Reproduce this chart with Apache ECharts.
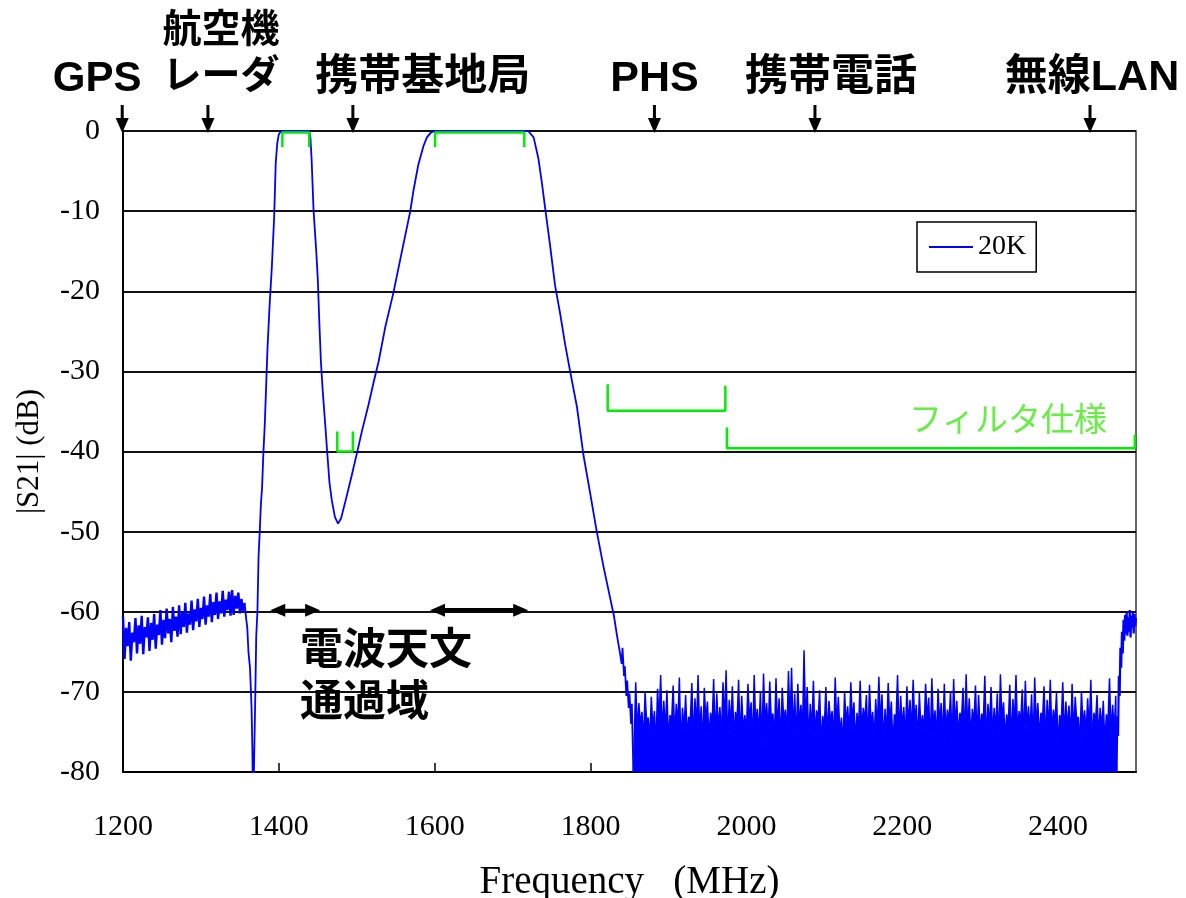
<!DOCTYPE html>
<html>
<head>
<meta charset="utf-8">
<script src="https://cdn.jsdelivr.net/npm/echarts@6/dist/echarts.min.js"></script>
<style>
html,body{margin:0;padding:0;background:#fff;}
#chart{width:1186px;height:898px;}
</style>
</head>
<body>
<div id="chart"></div>
<script>
// ---------------- DATA ----------------
const seriesName = '20K';

// noisy low-frequency floor, 1200..1356 MHz every 2 MHz
const leftNoiseStart = 1200;
const leftNoiseStep = 2;
const leftNoise = [
  -60.6,-65.9,-62.0,-64.3,-61.3,-66.1,-62.6,-63.8,-60.8,-65.2,
  -61.7,-64.0,-60.5,-65.3,-61.9,-63.2,-60.7,-64.9,-61.4,-63.5,
  -60.3,-64.6,-61.6,-62.9,-59.8,-64.1,-61.0,-63.3,-59.6,-62.7,
  -60.9,-63.8,-59.4,-62.4,-60.6,-63.1,-59.2,-62.8,-60.1,-61.9,
  -58.9,-62.6,-60.2,-61.6,-58.6,-62.3,-59.7,-61.2,-58.4,-61.9,
  -59.5,-60.9,-58.1,-61.6,-59.2,-60.6,-57.8,-61.3,-58.8,-60.4,
  -57.6,-60.9,-58.7,-60.2,-57.4,-60.6,-58.5,-59.8,-57.5,-60.5,
  -57.3,-60.4,-58.0,-59.6,-57.6,-60.2,-58.4,-60.0,-58.9
];

// the two pass bands and the notch, [MHz, dB]
const passbandCurve = [
  [1356,-58.9],[1358,-60.8],[1359.5,-62],[1361,-65],[1363,-67],[1365,-72],[1366,-77],[1367,-85],[1368.5,-85],
  [1369.5,-72],[1371,-63],[1372.5,-60],[1374,-53],[1375.5,-50],[1377,-46.5],[1378.5,-44.5],
  [1380,-40.5],[1382,-36.5],[1384,-31],[1385.5,-27],[1388,-22],[1391,-17],[1394,-10.7],
  [1396,-4],[1398,-1.5],[1400,-0.4],[1403,0],[1439,0],[1440.5,-0.8],[1442,-3.4],
  [1444.5,-9.8],[1448,-15],[1450,-18.5],[1452,-24],[1454,-28.8],[1456.5,-32.7],
  [1459.5,-36.6],[1462,-40],[1465,-43.9],[1468,-46.1],[1472,-48.2],[1476,-49],
  [1480,-48.3],[1487,-45.6],[1493.5,-43],[1500,-40.3],[1507,-37.3],[1515,-34.2],
  [1522,-31.2],[1528,-28.8],[1536.5,-24.5],[1547,-20.2],[1558,-15],[1568.5,-10.1],
  [1573,-7.3],[1579,-4.2],[1585.5,-1.9],[1590,-0.8],[1595,-0.2],[1600,0],
  [1720,0],[1727,-0.8],[1733,-3.4],[1737.5,-6.4],[1742,-9.8],[1748,-14.2],
  [1754.5,-19.3],[1761,-22.8],[1767.5,-26.7],[1774,-30.1],[1782.5,-34.4],[1791,-40.5],
  [1799.5,-45.2],[1808,-50],[1816.5,-54.3],[1825,-58.2],[1830,-60.5],[1834,-63],
  [1837,-64.7],[1840,-66.5],[1841,-64.5],[1843,-68],[1844,-66.8],[1846,-70.5],
  [1847,-68.6],[1849,-72],[1850,-70.2],[1852,-74],[1853,-71.5],[1855,-80]
];

// high-frequency noise floor: spike tops at 1858 + 4k MHz,
// top of the dense band between them at 1860 + 4k MHz
const floorStart = 1858;
const floorPeaks = [
  -68.8,-71.4,-72.5,-70.0,-73.2,-70.6,-72.4,-69.6,-67.9,-71.1,
  -69.8,-72.9,-69.2,-71.5,-68.2,-72.0,-70.4,-73.1,-68.9,-70.8,
  -67.9,-71.8,-69.5,-71.2,-72.6,-68.4,-70.2,-71.9,-68.8,-67.3,
  -71.0,-69.3,-72.5,-68.5,-70.5,-72.9,-69.0,-71.3,-67.9,-72.1,
  -69.9,-67.7,-71.4,-68.7,-72.7,-68.3,-70.8,-69.5,-72.2,-67.4,
  -67.0,-70.2,-69.0,-71.6,-64.8,-69.4,-71.5,-68.6,-72.3,-69.8,
  -73.0,-69.4,-71.1,-72.4,-68.2,-70.6,-73.2,-70.0,-71.8,-68.8,
  -71.3,-72.6,-68.6,-72.0,-70.4,-69.1,-72.5,-70.9,-68.1,-70.3,
  -72.1,-68.9,-71.2,-72.8,-67.9,-70.5,-71.9,-69.3,-71.0,-68.5,
  -71.6,-70.1,-72.9,-69.0,-70.7,-68.3,-72.3,-69.6,-71.4,-69.0,
  -72.2,-69.9,-68.4,-71.1,-72.6,-69.5,-67.8,-70.8,-72.1,-69.2,
  -70.4,-72.7,-68.0,-71.5,-69.4,-72.0,-70.2,-67.8,-71.3,-72.8,
  -69.1,-70.9,-67.9,-72.4,-69.7,-68.6,-71.8,-70.3,-68.2,-71.4,
  -72.6,-69.3,-71.0,-68.5,-72.2,-70.1,-72.9,-68.8,-71.2,-71.7,
  -69.0,-70.6,-73.1,-69.9,-72.3,-70.8,-68.5,-72.6,-70.4,-72.0,
  -71.1,-72.8,-68.3,-71.6,-70.5
];
const floorTroughs = [
  -75.2,-74.1,-76.4,-73.8,-75.9,-74.6,-76.8,-73.5,-75.3,-74.9,
  -76.1,-73.9,-75.6,-74.3,-77.0,-74.8,-75.4,-73.7,-76.3,-74.5,
  -75.0,-76.6,-73.6,-75.8,-74.2,-76.0,-74.7,-75.5,-73.9,-76.5,
  -74.4,-75.7,-73.8,-76.2,-74.9,-75.1,-73.6,-76.7,-74.3,-75.4,
  -76.9,-74.0,-75.2,-73.7,-75.9,-74.6,-76.4,-73.8,-75.3,-74.1,
  -75.6,-76.3,-74.2,-75.0,-73.9,-76.1,-74.8,-75.7,-73.5,-76.6,
  -74.5,-75.8,-73.7,-76.0,-74.4,-75.3,-76.8,-74.0,-75.5,-73.8,
  -76.2,-74.7,-75.1,-73.6,-76.5,-74.3,-75.9,-74.9,-73.9,-76.4,
  -75.4,-74.1,-76.7,-73.7,-75.6,-74.6,-76.0,-74.2,-75.2,-73.8,
  -76.3,-74.8,-75.0,-73.5,-76.9,-74.4,-75.7,-74.0,-76.1,-75.3,
  -73.9,-76.6,-74.5,-75.4,-73.6,-76.2,-74.9,-75.8,-74.1,-76.0,
  -75.1,-73.8,-76.4,-74.3,-75.5,-74.7,-76.8,-73.7,-75.9,-74.2,
  -76.5,-74.0,-75.3,-73.9,-76.1,-74.6,-75.0,-76.7,-74.4,-75.6,
  -73.6,-76.3,-74.8,-75.2,-73.8,-76.9,-74.1,-75.7,-74.5,-76.0,
  -75.4,-73.7,-76.6,-74.3,-75.1,-74.9,-76.2,-73.9,-75.8,-74.6,
  -76.4,-74.0,-75.5,-75.0
];

// rising edge at the top of the band, [MHz, dB]
const rightEdge = [
  [2475,-80],[2476,-73],[2477,-75.5],[2478,-68],[2479,-70.5],[2480,-64.5],[2481,-67],
  [2482,-62.5],[2483,-65.2],[2484,-61],[2485,-63.6],[2486,-60.4],[2487,-62.8],[2488,-60],
  [2489,-63],[2490,-60.7],[2491,-62.5],[2492,-59.8],[2493,-63.2],[2494,-60.5],[2495,-62],
  [2496,-60],[2497,-62.7],[2498,-60.3],[2499,-61.8],[2500,-60.8]
];

// filter specification brackets (フィルタ仕様), [MHz, dB]
const specPass1 = [[1404.5,-2.0],[1404.5,-0.2],[1439,-0.2],[1439,-2.0]];
const specPass2 = [[1600.5,-2.0],[1600.5,-0.2],[1715,-0.2],[1715,-2.0]];
const specNotch = [[1475,-37.5],[1475,-40],[1495,-40],[1495,-37.5]];
const specPHS   = [[1822,-31.6],[1822,-34.9],[1973,-34.9],[1973,-31.8]];
const specHigh  = [[1975,-37],[1975,-39.6],[2498.5,-39.6],[2498.5,-37.9]];

// services marked along the top
const bandNames = ['GPS', '航空機\nレーダ', '携帯基地局', 'PHS', '携帯電話', '無線LAN'];
const bandFreqs = [1199, 1309, 1495, 1882, 2088, 2441];

// radio astronomy pass ranges (double arrows), [from MHz, to MHz, dB]
const radioBands = [[1389, 1453, -60], [1594, 1720, -60]];

// ---------------- BUILD ----------------
const leftCurve = leftNoise.map((v, i) => [leftNoiseStart + leftNoiseStep * i, v]);
const floorCurve = [passbandCurve[passbandCurve.length - 1]];
floorPeaks.forEach((v, k) => {
  floorCurve.push([floorStart + 4 * k, v]);
  if (k < floorTroughs.length) floorCurve.push([floorStart + 2 + 4 * k, floorTroughs[k]]);
});
floorCurve.push(rightEdge[0]);

// ---------------- LAYOUT ----------------
const SERIF = '"Liberation Serif", "Times New Roman", serif';
const SANS = '"Liberation Sans", "Noto Sans CJK JP", sans-serif';
const BLUE = '#0000FF';
const GREEN = '#00EE00';
const labelDx = [-25, 13, 70, 0, 16, 2];
const labelDy = [-52, -77, -53, -52, -53, -53];
const labelSize = [42, 39, 43, 43, 43, 43];
const radioWidth = [3, 4.5];

function specSeries(data) {
  return {
    type: 'line', data: data, symbol: 'none', silent: true, z: 4,
    lineStyle: { color: GREEN, width: 2.5 }, animation: false
  };
}
function blueSeries(data, width, area) {
  const s = {
    name: seriesName, type: 'line', data: data, symbol: 'none', showSymbol: false,
    clip: true, z: 3, color: BLUE, itemStyle: { color: BLUE },
    lineStyle: { color: BLUE, width: width }
  };
  if (area) s.areaStyle = { color: BLUE, opacity: 1, origin: 'start' };
  return s;
}

const chart = echarts.init(document.getElementById('chart'), null, { renderer: 'canvas' });
const option = {
  animation: false,
  backgroundColor: '#fff',
  textStyle: { fontFamily: SERIF },
  grid: { left: 123, right: 50, top: 131, bottom: 126, containLabel: false, outerBoundsMode: 'none',
          show: true, borderColor: '#333', borderWidth: 1.5, backgroundColor: 'transparent' },
  legend: {
    data: [{ name: seriesName, icon: 'rect' }],
    left: 917, top: 222,
    itemWidth: 44, itemHeight: 2,
    padding: [11, 10, 11, 12],
    borderColor: '#000', borderWidth: 1.5,
    textStyle: { fontFamily: SERIF, fontSize: 28, color: '#000' }
  },
  xAxis: {
    type: 'value', min: 1200, max: 2500, interval: 200,
    name: 'Frequency   (MHz)', nameLocation: 'middle', nameGap: 91,
    nameTextStyle: { fontFamily: SERIF, fontSize: 39, color: '#000' },
    axisLine: { show: true, onZero: false, lineStyle: { color: '#000', width: 2 } },
    axisTick: { show: true, inside: true, length: 9, lineStyle: { color: '#000', width: 1.5 } },
    axisLabel: { fontFamily: SERIF, fontSize: 30, color: '#000', margin: 40, showMaxLabel: false,
                 formatter: v => String(v) },
    splitLine: { show: false }
  },
  yAxis: {
    type: 'value', min: -80, max: 0, interval: 10,
    name: '|S21| (dB)', nameLocation: 'middle', nameGap: 78,
    nameTextStyle: { fontFamily: SERIF, fontSize: 31, color: '#000' },
    axisLine: { show: true, lineStyle: { color: '#000', width: 2 } },
    axisTick: { show: false },
    axisLabel: { fontFamily: SERIF, fontSize: 30, color: '#000', margin: 23 },
    splitLine: { show: true, lineStyle: { color: '#111', width: 2 } }
  },
  graphic: [
    { type: 'text', x: 300, y: 626, z: 10,
      style: { text: '電波天文\n通過域', font: 'bold 43px ' + SANS, fill: '#000', lineHeight: 52, verticalAlign: 'top', align: 'left' } },
    { type: 'text', x: 909, y: 418, z: 10,
      style: { text: 'フィルタ仕様', font: '33px "Noto Sans CJK JP", sans-serif', fill: '#66EE44', verticalAlign: 'middle', align: 'left' } }
  ],
  series: [
    blueSeries(leftCurve, 2.4, false),
    blueSeries(passbandCurve, 1.8, false),
    blueSeries(floorCurve, 1.5, true),
    blueSeries(rightEdge, 2.2, false),
    specSeries(specPass1),
    specSeries(specPass2),
    specSeries(specNotch),
    specSeries(specPHS),
    specSeries(specHigh),
    {
      type: 'custom', silent: true, clip: false, z: 6,
      data: bandFreqs.map(f => [f, 0]),
      renderItem: function (params, api) {
        const i = params.dataIndex;
        const p = api.coord([api.value(0), api.value(1)]);
        const x = p[0], y0 = p[1];
        return {
          type: 'group',
          children: [
            { type: 'line', shape: { x1: x, y1: y0 - 26, x2: x, y2: y0 - 12 }, style: { stroke: '#000', lineWidth: 3 } },
            { type: 'polygon', shape: { points: [[x - 6.5, y0 - 13], [x + 6.5, y0 - 13], [x, y0 + 2]] }, style: { fill: '#000' } },
            { type: 'text', x: x + labelDx[i], y: y0 + labelDy[i],
              style: { text: bandNames[i], font: 'bold ' + labelSize[i] + 'px ' + SANS, fill: '#000',
                       align: 'center', verticalAlign: 'middle', lineHeight: 46 } }
          ]
        };
      }
    },
    {
      type: 'custom', silent: true, clip: false, z: 6,
      data: radioBands,
      renderItem: function (params, api) {
        const i = params.dataIndex;
        const a = api.coord([api.value(0), api.value(2)]);
        const b = api.coord([api.value(1), api.value(2)]);
        const y = a[1] - 1.5;
        const w = radioWidth[i];
        const hl = 15, hh = 6.5;
        return {
          type: 'group',
          children: [
            { type: 'line', shape: { x1: a[0] + hl - 2, y1: y, x2: b[0] - hl + 2, y2: y }, style: { stroke: '#000', lineWidth: w } },
            { type: 'polygon', shape: { points: [[a[0], y], [a[0] + hl, y - hh], [a[0] + hl, y + hh]] }, style: { fill: '#000' } },
            { type: 'polygon', shape: { points: [[b[0], y], [b[0] - hl, y - hh], [b[0] - hl, y + hh]] }, style: { fill: '#000' } }
          ]
        };
      }
    }
  ]
};
chart.setOption(option);
</script>
</body>
</html>
